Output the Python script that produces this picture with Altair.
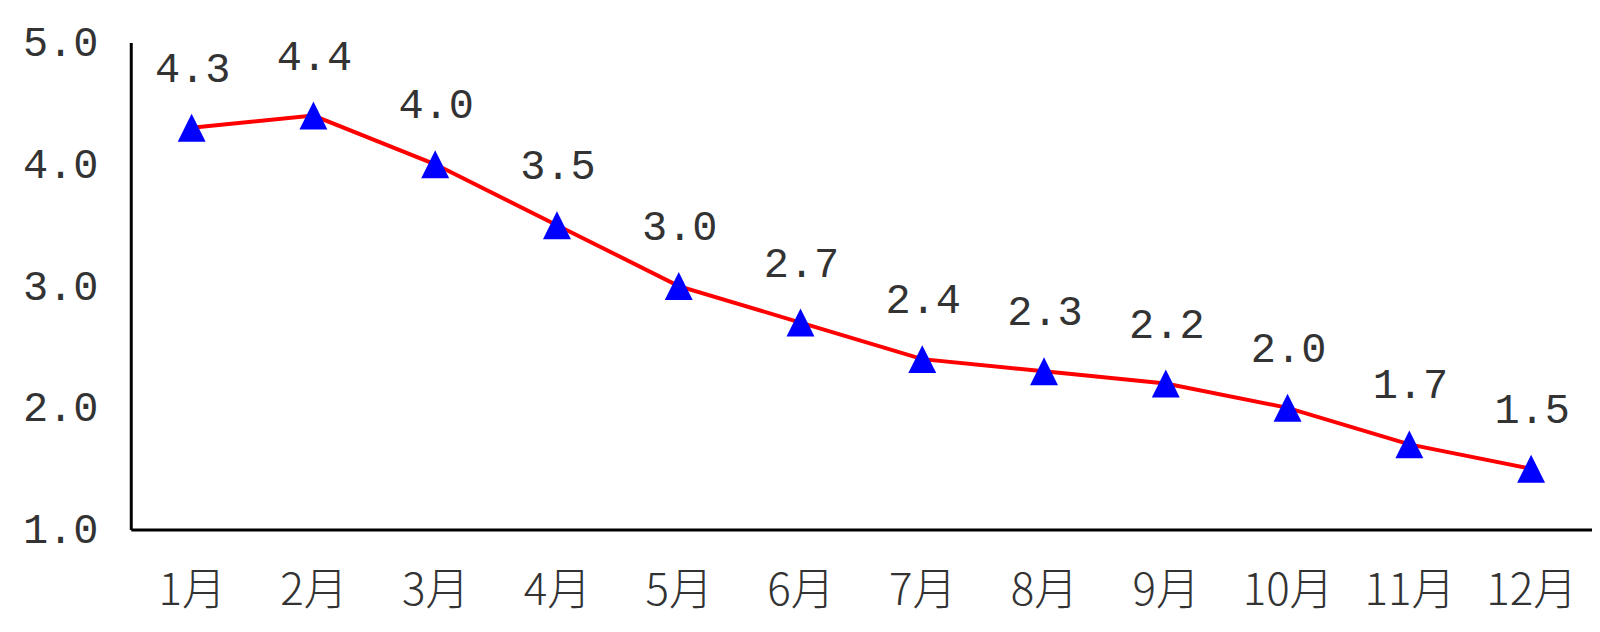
import altair as alt
import pandas as pd

months = ["1月", "2月", "3月", "4月", "5月", "6月", "7月", "8月", "9月", "10月", "11月", "12月"]
values = [4.3, 4.4, 4.0, 3.5, 3.0, 2.7, 2.4, 2.3, 2.2, 2.0, 1.7, 1.5]
y_ticks = [1.0, 2.0, 3.0, 4.0, 5.0]

df = pd.DataFrame({"month": months, "value": values})

x_enc = alt.X(
    "month:N",
    sort=months,
    scale=alt.Scale(type="point", padding=0.5),
    axis=alt.Axis(
        title=None,
        labelAngle=0,
        ticks=False,
        domain=True,
        domainColor="#000000",
        domainWidth=3,
        labelFont="Noto Sans CJK SC",
        labelFontSize=44,
        labelFontWeight=300,
        labelColor="#333333",
        labelPadding=40,
        labelBaseline="top",
        grid=False,
    ),
)
y_enc = alt.Y(
    "value:Q",
    scale=alt.Scale(domain=[1, 5], nice=False, zero=False),
    axis=alt.Axis(
        title=None,
        values=y_ticks,
        format=".1f",
        ticks=False,
        grid=False,
        domain=True,
        domainColor="#000000",
        domainWidth=3,
        labelFont="Liberation Mono",
        labelFontSize=42,
        labelColor="#333333",
        labelPadding=33,
    ),
)

base = alt.Chart(df).encode(x=x_enc, y=y_enc)

line = base.mark_line(color="#FF0000", strokeWidth=4)
points = base.mark_point(
    shape="M-1,1L1,1L0,-1Z", filled=True, color="#0000FF", opacity=1, size=784
)
labels = base.mark_text(
    font="Liberation Mono",
    fontSize=42,
    color="#333333",
    baseline="alphabetic",
    align="center",
    dx=1,
    dy=-46,
).encode(text=alt.Text("value:Q", format=".1f"))

chart = (
    alt.layer(line, points, labels)
    .properties(
        width=1464,
        height=488,
        autosize=alt.AutoSizeParams(type="none"),
        padding={"left": 123, "top": 34, "right": 0, "bottom": 94},
        background="#FFFFFF",
    )
    .configure_view(stroke=None)
)

chart.save("out.html", embed_options={"renderer": "svg", "actions": False})
